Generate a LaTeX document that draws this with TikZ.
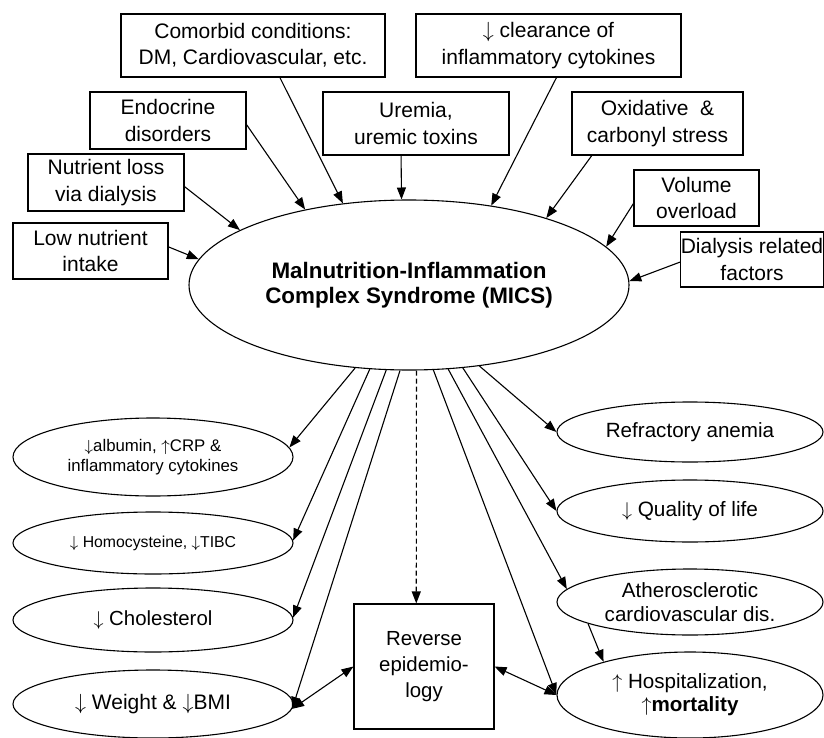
\documentclass[tikz,border=0pt]{standalone}
\usepackage{fontspec}
\setmainfont{Liberation Sans}
\usetikzlibrary{shapes.geometric,arrows.meta}
\newcommand{\dnarr}{$\downarrow$}
\newcommand{\uparr}{$\uparrow$}
\tikzset{
  cause/.style={draw, rectangle, inner sep=0pt, align=center, font=\fontsize{10.5}{13.2}\selectfont},
  effect/.style={draw, ellipse, inner sep=0pt, align=center, minimum width=140pt},
  arr/.style={-{Triangle[length=6pt,width=4.5pt]}},
  dblarr/.style={{Triangle[length=6pt,width=4.5pt]}-{Triangle[length=6pt,width=4.5pt]}},
}
\begin{document}
\begin{tikzpicture}[x=0.5pt,y=-0.5pt,line width=0.55pt]
\useasboundingbox (0,0) rectangle (824,738);
\node[draw, ellipse, inner sep=0pt, align=center, minimum width=220pt, minimum height=85pt,
    font=\fontsize{11.2}{12.5}\selectfont\bfseries] (mics) at (409,285)
    {Malnutrition-Inflammation\\Complex Syndrome (MICS)};
\node[cause, minimum width=132pt, minimum height=31.5pt] (comorbid) at (253,45.5) {Comorbid conditions:\\DM, Cardiovascular, etc.};
\node[cause, minimum width=132.5pt, minimum height=31.5pt] (clearance) at (548.5,45.5) {\dnarr{} clearance of\\inflammatory cytokines};
\node[cause, minimum width=78pt, minimum height=28.5pt] (endocrine) at (168,120.5) {Endocrine\\disorders};
\node[cause, minimum width=93pt, minimum height=31.5pt] (uremia) at (416,123.5) {Uremia,\\uremic toxins};
\node[cause, minimum width=85.5pt, minimum height=31.5pt] (oxidative) at (657.5,123.5) {Oxidative\ \ \&\\carbonyl stress};
\node[cause, minimum width=78pt, minimum height=28.5pt] (nutloss) at (106,182.5) {Nutrient loss\\via dialysis};
\node[cause, minimum width=62.5pt, minimum height=28pt] (volume) at (696.5,198) {Volume\\overload};
\node[cause, minimum width=77.5pt, minimum height=28pt] (lowintake) at (90.5,251) {Low nutrient\\intake};
\node[cause, minimum width=70pt, minimum height=27.5pt] (dialysis) at (752,259.5) {Dialysis related\\factors};
\node[effect, minimum height=39pt, font=\fontsize{8.4}{10}\selectfont] (albumin) at (153,457) {\dnarr albumin, \uparr CRP \&\\inflammatory cytokines};
\node[effect, minimum height=31pt, font=\fontsize{7.9}{9}\selectfont] (homocys) at (153,543) {\dnarr{} Homocysteine, \dnarr TIBC};
\node[effect, minimum height=32pt, font=\fontsize{10.2}{12}\selectfont] (cholest) at (153,620) {\dnarr{} Cholesterol};
\node[effect, minimum height=34pt, font=\fontsize{10.5}{12}\selectfont] (weight) at (153,704) {\dnarr{} Weight \& \dnarr BMI};
\node[effect, minimum width=133pt, minimum height=30pt, font=\fontsize{10.3}{12}\selectfont] (anemia) at (690,432) {Refractory anemia};
\node[effect, minimum width=133pt, minimum height=31pt, font=\fontsize{10.4}{12}\selectfont] (quality) at (690,511) {\dnarr{} Quality of life};
\node[effect, minimum width=133pt, minimum height=33pt, font=\fontsize{10.3}{12}\selectfont] (athero) at (690,602) {Atherosclerotic\\cardiovascular dis.};
\node[effect, minimum width=133pt, minimum height=43pt, font=\fontsize{10.3}{11.5}\selectfont] (hospital) at (690,695) {\uparr{} Hospitalization,\\\uparr\textbf{mortality}};
\node[draw, rectangle, inner sep=0pt, align=center, minimum width=70pt, minimum height=62.5pt,
    font=\fontsize{10.2}{13}\selectfont] (reverse) at (424,666.5) {Reverse\\epidemio-\\logy};
\draw[arr] (lowintake.3) -- (mics.173.8);
\draw[arr] (nutloss.-3.3) -- (mics.162);
\draw[arr] (endocrine.-3.3) -- (mics.144.8);
\draw[arr] (comorbid.-50.5) -- (mics.129.5);
\draw[arr] (uremia.-115.5) -- (mics.95.4);
\draw[arr] (clearance.-76.6) -- (mics.44.7);
\draw[arr] (oxidative.-154) -- (mics.26.7);
\draw[arr] (volume.185.5) -- (mics.11.4);
\draw[arr] (dialysis.182) -- (mics.1.9);
\draw[arr] (mics.-123.2) -- (albumin.4.9);
\draw[arr] (mics.-115) -- (homocys.1.2);
\draw[arr] (mics.-105.9) -- (cholest.1.2);
\draw[arr] (mics.-96) -- (weight.-2.5);
\draw[arr, dash pattern=on 2.5pt off 1.5pt] (mics.-85.3) -- (reverse.97.3);
\draw[arr] (mics.-74.8) -- (hospital.180);
\draw[arr] (mics.-65.6) -- (athero.174);
\draw[arr] (mics.-57.3) -- (quality.180);
\draw[arr] (mics.-49.5) -- (anemia.180);
\draw[arr] (athero.-168.9) -- (hospital.159.2);
\draw[dblarr] (weight.-2.5) -- (reverse.west);
\draw[dblarr] (reverse.east) -- (hospital.180);
\end{tikzpicture}
\end{document}
